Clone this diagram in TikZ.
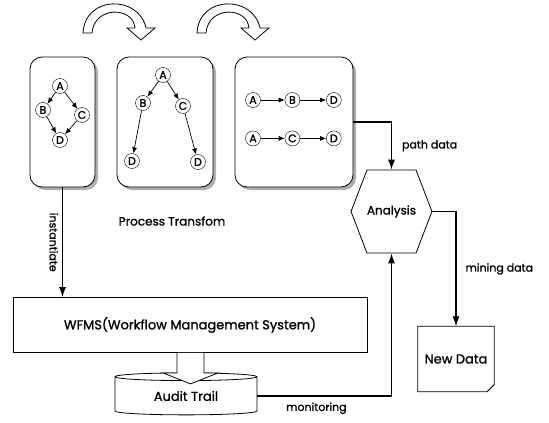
\documentclass[tikz,border=0pt]{standalone}
\usepackage{fontspec}
\setmainfont{Poppins}[FakeBold=1.2]
\usetikzlibrary{positioning, shapes.geometric, shapes.symbols, shadows, arrows.meta}
\newcommand\SetSize[1]{\fontsize{#1}{#1}\selectfont}
\tikzstyle{stage} = [draw=black, line width=0.8pt, rounded corners=12pt, fill=white,
 drop shadow={shadow xshift=3pt, shadow yshift=-3pt, fill=black!45, opacity=0.7}]
\tikzstyle{vertex} = [circle, draw=black, fill=white, minimum size=15pt, inner sep=0pt, font=\SetSize{11}]
\tikzstyle{edge} = [->, >={Latex[length=6pt, width=5pt]}, line width=0.7pt]
\tikzstyle{arrow} = [line width=1.1pt, ->, >={Latex[length=10pt, width=7pt]}]
\tikzstyle{lbl} = [font=\SetSize{11}, inner sep=1pt]
\tikzstyle{base} = [draw=black, line width=0.8pt, text centered, font=\SetSize{13}]
\tikzstyle{hollow} = [draw=black, fill=white, line width=0.8pt]
\NewDocumentCommand\HollowBend{m m}{%
    \draw[hollow, shift={(#1,#2)}] (0,0) .. controls (2,-38) and (56,-38) .. (63,-5)
    -- (72,-5) -- (58,7) -- (44,-5) -- (52,-5)
    .. controls (50,-27) and (11,-27) .. (9,0) -- cycle;
}

\begin{document}
\begin{tikzpicture}[x=1pt, y=-1pt]
\useasboundingbox (0,0) rectangle (549,423);

% process stages
\node (STAGE1) [stage, minimum width=65pt, minimum height=130pt] at (62.5,122) {};
\node (STAGE2) [stage, minimum width=96pt, minimum height=130pt] at (165,122) {};
\node (STAGE3) [stage, minimum width=118pt, minimum height=130pt] at (294,122) {};

\HollowBend{83}{33}
\HollowBend{197}{33}

% original process
\node (A1) [vertex] at (60,86) {A};
\node (B1) [vertex] at (43,110) {B};
\node (C1) [vertex] at (82,115) {C};
\node (D1) [vertex] at (60,140) {D};
\draw[edge] (A1) -- (B1);
\draw[edge] (A1) -- (C1);
\draw[edge] (B1) -- (D1);
\draw[edge] (C1) -- (D1);

% tree
\node (A2) [vertex] at (163,75) {A};
\node (B2) [vertex] at (143,103) {B};
\node (C2) [vertex] at (183,106) {C};
\node (D2) [vertex] at (132,161) {D};
\node (E2) [vertex] at (198,162) {D};
\draw[edge] (A2) -- (B2);
\draw[edge] (A2) -- (C2);
\draw[edge] (B2) -- (D2);
\draw[edge] (C2) -- (E2);

% paths
\node (A3) [vertex] at (253,100) {A};
\node (B3) [vertex, right=24pt of A3] {B};
\node (D3) [vertex, right=26pt of B3] {D};
\node (A4) [vertex, below=23pt of A3] {A};
\node (C4) [vertex, right=24pt of A4] {C};
\node (D4) [vertex, right=26pt of C4] {D};
\draw[edge] (A3) -- (B3);
\draw[edge] (B3) -- (D3);
\draw[edge] (A4) -- (C4);
\draw[edge] (C4) -- (D4);

\node (TRANSFORM) [lbl, font=\SetSize{12}] at (172,221) {Process Transfom};

% system
\node (WFMS) [base, rectangle, minimum width=354pt, minimum height=55pt] at (190,325)
    {WFMS(Workflow Management System)};
\node (AUDIT) [base, cylinder, shape border rotate=90, aspect=0.12, minimum width=142pt,
    minimum height=42pt, inner sep=0pt] at (186,396) {Audit Trail};
\node (ANALYSIS) [base, signal, signal to=west and east, signal pointer angle=138,
    minimum width=73pt, minimum height=83pt, inner sep=0pt, font=\SetSize{12}] at (391.5,211.5) {Analysis};
\node (NEWDATA) [font=\SetSize{13}, minimum width=76pt, minimum height=65pt] at (456,359) {New Data};
\draw[line width=0.8pt] (NEWDATA.north west) -- (NEWDATA.north east)
    -- ([yshift=7pt]NEWDATA.south east) -- ([xshift=-7pt]NEWDATA.south east)
    -- (NEWDATA.south west) -- cycle;
\draw[line width=0.6pt] ([yshift=7pt]NEWDATA.south east) -- ([xshift=-4pt, yshift=3pt]NEWDATA.south east)
    -- ([xshift=-7pt]NEWDATA.south east);

% hollow arrow
\draw[hollow] ([xshift=-13pt]WFMS.south) -- ++(0,20) -- ++(-14,0) -- ++(27.5,11)
    -- ++(27.5,-11) -- ++(-14,0) -- ++(0,-20);

% Arrows
\draw[arrow] (STAGE1) -- node[lbl, midway, rotate=-90, anchor=north, yshift=-3pt] {instantiate}
    (STAGE1 |- WFMS.north);
\draw[arrow] (STAGE3.east) -| node[lbl, pos=0.75, right=9pt] {path data} (ANALYSIS.north);
\draw[arrow] (ANALYSIS.east) -| node[lbl, pos=0.75, right=8pt] {mining data} (NEWDATA.north);
\draw[arrow] (AUDIT.east) -| node[lbl, pos=0.22, below=5pt] {monitoring} (ANALYSIS.south);

\end{tikzpicture}
\end{document}
